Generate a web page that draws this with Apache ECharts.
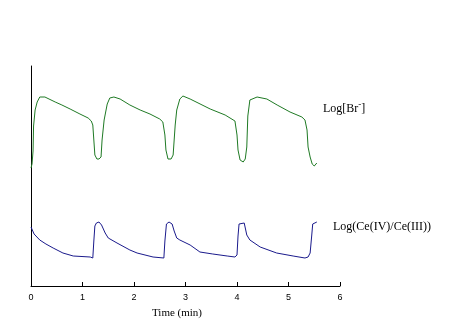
<!DOCTYPE html>
<html><head><meta charset="utf-8">
<script src="https://cdn.jsdelivr.net/npm/echarts@6/dist/echarts.min.js"></script>
<style>html,body{margin:0;padding:0;background:#fff}#c{width:464px;height:330px}</style>
</head><body><div id="c"></div>
<script>
// Time ticks (min)
const xTicks = [0, 1, 2, 3, 4, 5, 6];
// Log[Br-] trace (arbitrary units): [time, value]
const brTrace = [
[0.00,118],[0.02,122],[0.04,135],[0.05,160],[0.08,176],[0.12,184],[0.17,189],[0.27,189],[0.35,187],[0.47,184],
[0.60,181],[0.76,177],[0.95,172],[1.11,168],[1.17,165],[1.20,161],[1.22,146],[1.24,131],[1.28,127],[1.32,127],
[1.36,129],[1.38,146],[1.42,166],[1.48,182],[1.53,188],[1.61,189],[1.73,187],[1.92,181],[2.12,176],[2.31,172],
[2.50,167],[2.56,164],[2.60,151],[2.62,136],[2.66,127],[2.72,127],[2.76,131],[2.80,161],[2.83,176],[2.89,187],
[2.95,190],[3.09,187],[3.48,177],[3.77,171],[3.96,165],[4.00,151],[4.02,136],[4.06,126],[4.12,124],[4.16,127],
[4.19,139],[4.21,170],[4.25,186],[4.39,189],[4.58,187],[4.78,181],[5.03,174],[5.26,169],[5.32,166],[5.36,156],
[5.38,139],[5.42,129],[5.46,122],[5.50,120],[5.55,123]
];
// Log(Ce(IV)/Ce(III)) trace (arbitrary units): [time, value]
const ceTrace = [
[0.00,59],[0.06,52],[0.17,46],[0.29,42],[0.43,38],[0.62,33],[0.82,30],[1.15,29],[1.20,28],[1.22,45],
[1.24,60],[1.27,63],[1.32,64],[1.37,61],[1.44,53],[1.50,48],[1.67,43],[1.92,36],[2.06,33],[2.37,29],
[2.58,28],[2.60,45],[2.63,62],[2.68,64],[2.74,62],[2.78,55],[2.83,48],[2.89,46],[3.09,41],[3.28,34],
[3.53,32],[3.81,30],[3.96,29],[4.00,31],[4.02,50],[4.04,62],[4.06,63],[4.14,63],[4.19,51],[4.25,46],
[4.45,39],[4.77,33],[5.09,30],[5.32,28],[5.38,29],[5.42,33],[5.45,50],[5.47,62],[5.49,64],[5.55,64]
];
const xName = 'Time (min)';
const brLabel = 'Log[Br';
const ceLabel = 'Log(Ce(IV)/Ce(III))';

const chart = echarts.init(document.getElementById('c'), null, {renderer: 'canvas'});
chart.setOption({
  animation: false,
  backgroundColor: '#ffffff',
  grid: {left: 31, right: 124, top: 66, bottom: 44},
  xAxis: {
    type: 'value', min: xTicks[0], max: xTicks[xTicks.length - 1], interval: 1,
    axisLine: {lineStyle: {color: '#000', width: 1}},
    axisTick: {inside: true, length: 4, lineStyle: {color: '#000'}},
    axisLabel: {color: '#000', fontFamily: 'Liberation Sans', fontSize: 9, margin: 7},
    splitLine: {show: false}
  },
  yAxis: {
    type: 'value', min: 0, max: 220,
    axisLine: {show: true, lineStyle: {color: '#000', width: 1}},
    axisTick: {show: false}, axisLabel: {show: false}, splitLine: {show: false}
  },
  series: [
    {type: 'line', data: brTrace, showSymbol: false, symbol: 'none',
     lineStyle: {color: '#1f7a24', width: 1}},
    {type: 'line', data: ceTrace, showSymbol: false, symbol: 'none',
     lineStyle: {color: '#1a1a8c', width: 1}}
  ],
  graphic: [
    {type: 'text', left: 152, top: 308, style: {text: xName, fill: '#000', font: '11px "Liberation Serif"'}},
    {type: 'text', left: 323, top: 100, style: {
      text: '{a|' + brLabel + '}{s|-}{a|]}',
      rich: {a: {fontFamily: 'Liberation Serif', fontSize: 12, fill: '#000', verticalAlign: 'bottom'},
             s: {fontFamily: 'Liberation Serif', fontSize: 9, fill: '#000', padding: [0, 0, 6, 0]}}
    }},
    {type: 'text', left: 333, top: 221, style: {text: ceLabel, fill: '#000', font: '12px "Liberation Serif"'}}
  ]
});
</script></body></html>
